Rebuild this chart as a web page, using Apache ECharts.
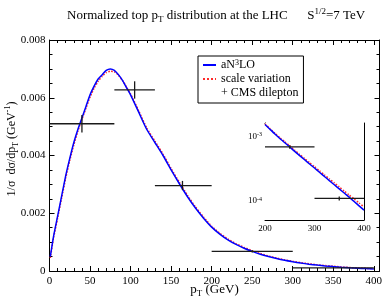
<!DOCTYPE html>
<html><head><meta charset="utf-8">
<script src="https://cdn.jsdelivr.net/npm/echarts@6/dist/echarts.min.js"></script>
<style>html,body{margin:0;padding:0;background:#fff}#c{width:382px;height:302px}</style>
</head><body><div id="c"></div>
<script>
// ---- data ----
const pT = [1,5,10,15,20,25,30,35,40,45,50,55,60,65,70,75,80,85,90,95,100,110,120,130,140,150,160,170,180,190,200,210,220,230,240,250,260,270,280,290,300,310,320,330,340,350,360,370,380,390,400];
const aN3LO = [0.0005,0.0012,0.0019,0.0026,0.0033,0.0039,0.00445,0.0049,0.0053,0.0057,0.0061,0.0064,0.00665,0.0068,0.00695,0.0070,0.00695,0.0068,0.0066,0.00635,0.0061,0.0055,0.0049,0.00445,0.0040,0.0035,0.00303,0.00258,0.00218,0.00183,0.00152,0.00128,0.00108,0.00092,0.00079,0.00068,0.00058,0.00050,0.00043,0.00037,0.00032,0.000275,0.000237,0.000204,0.000176,0.000152,0.000131,0.000113,0.000097,0.000083,0.000071];
const scaleVariation = [0.00045,0.00115,0.00183,0.00253,0.00322,0.00383,0.00437,0.00484,0.00525,0.00564,0.00602,0.00633,0.00657,0.00674,0.00687,0.00692,0.00690,0.00678,0.0066,0.00637,0.00613,0.00555,0.00495,0.0045,0.00405,0.00355,0.00308,0.00263,0.00222,0.00187,0.00155,0.00131,0.00111,0.00095,0.00082,0.000705,0.000605,0.00052,0.000449,0.000388,0.000336,0.00029,0.000251,0.000217,0.000188,0.000163,0.000141,0.000122,0.000106,0.000092,0.000080];
const cmsCenter = [40,105,164,250,350];
const cmsLow = [0,80,130,200,300];
const cmsHigh = [80,130,200,300,400];
const cmsValue = [0.0051,0.00627,0.00296,0.00068,0.000108];
const cmsError = [0.0003,0.0003,0.00016,0.00004,0.000008];
const insetMinorTicks = [6e-5,7e-5,8e-5,9e-5,2e-4,3e-4,4e-4,5e-4,6e-4,7e-4,8e-4,9e-4];

// ---- build ----
const SERIF = '"Liberation Serif", "Times New Roman", serif';
const blueData = pT.map((x,i)=>[x,aN3LO[i]]);
const redData = pT.map((x,i)=>[x,scaleVariation[i]]);
const cmsData = cmsCenter.map((c,i)=>[c,cmsLow[i],cmsHigh[i],cmsValue[i],cmsError[i]]);
const subsup = {
  sub:{fontSize:8,fontFamily:SERIF,verticalAlign:'bottom',lineHeight:8,color:'#000'},
  sup:{fontSize:8,fontFamily:SERIF,verticalAlign:'top',lineHeight:8,color:'#000'}
};
const subsupT = {
  sub:{fontSize:9,fontFamily:SERIF,verticalAlign:'bottom',lineHeight:9,color:'#000'},
  sup:{fontSize:9,fontFamily:SERIF,verticalAlign:'top',lineHeight:9,color:'#000'}
};
function errRender(params, api){
  const c = api.value(0), lo = api.value(1), hi = api.value(2), v = api.value(3), e = api.value(4);
  const a = api.coord([lo, v]), b = api.coord([hi, v]);
  const t = api.coord([c, v + e]), d = api.coord([c, v - e]);
  const st = {stroke:'#1a1a1a', lineWidth:1.3};
  return {type:'group', children:[
    {type:'line', shape:{x1:a[0],y1:a[1],x2:b[0],y2:b[1]}, style:st},
    {type:'line', shape:{x1:t[0],y1:t[1],x2:d[0],y2:d[1]}, style:st}
  ]};
}
const axLine = {show:true, onZero:false, lineStyle:{color:'#000', width:1}};
const tickIn = (len)=>({show:true, inside:true, length:len, lineStyle:{color:'#000', width:1}});
const minorIn = (n,len)=>({show:true, splitNumber:n, length:len, lineStyle:{color:'#000', width:1}});
const lblStyle = (sz)=>({fontFamily:SERIF, fontSize:sz, color:'#000'});

const option = {
  animation:false,
  backgroundColor:'#fff',
  title:{
    text:'Normalized top p{sub|T} distribution at the LHC      S{sup|1/2}=7 TeV',
    left:62, top:2,
    textStyle:{fontFamily:SERIF, fontSize:13, fontWeight:'normal', color:'#000', lineHeight:17, rich:subsupT}
  },
  graphic:[{
    type:'text', x:12, y:149, rotation:Math.PI/2,
    style:{text:'1/σ  dσ/dp{sub|T} (GeV{sup|-1})', font:'12px '+SERIF, fill:'#000', align:'center', verticalAlign:'middle', lineHeight:16, rich:subsup}
  }],
  legend:{
    orient:'vertical', left:198, top:56,
    padding:[3,5,4,4], itemGap:2, itemWidth:13, itemHeight:12,
    borderColor:'#000', borderWidth:1, backgroundColor:'#fff',
    textStyle:{fontFamily:SERIF, fontSize:12, color:'#000', rich:subsup},
    formatter:(n)=> n==='aN3LO' ? 'aN{sup|3}LO' : n,
    data:[
      {name:'aN3LO', itemStyle:{opacity:0, borderWidth:0}},
      {name:'scale variation', itemStyle:{opacity:0, borderWidth:0}},
      {name:'+ CMS dilepton', icon:'rect', itemStyle:{opacity:0}}
    ]
  },
  grid:[
    {left:49.5, top:40, width:330, height:231, show:true, borderWidth:0, backgroundColor:'#fff', outerBoundsMode:'none', containLabel:false},
    {left:265, top:123, width:99, height:97, show:true, borderWidth:0, backgroundColor:'#fff', z:5, outerBoundsMode:'none', containLabel:false}
  ],
  xAxis:[
    {gridIndex:0, type:'value', min:0, max:407, interval:50, position:'bottom',
     axisLine:axLine, axisTick:tickIn(5), minorTick:minorIn(5,3), splitLine:{show:false},
     axisLabel:Object.assign({margin:5, showMaxLabel:false}, lblStyle(11)),
     name:'p{sub|T} (GeV)', nameLocation:'middle', nameGap:11, nameMoveOverlap:false,
     nameTextStyle:{fontFamily:SERIF, fontSize:13, color:'#000', lineHeight:16, verticalAlign:'top', rich:subsupT}},
    {gridIndex:0, type:'value', min:0, max:407, interval:50, position:'top',
     axisLine:axLine, axisTick:tickIn(5), minorTick:minorIn(5,3), splitLine:{show:false}, axisLabel:{show:false}},
    {gridIndex:1, type:'value', min:200, max:400, interval:100, position:'bottom',
     axisLine:axLine, axisTick:tickIn(4), minorTick:minorIn(5,2.5), splitLine:{show:false},
     axisLabel:Object.assign({margin:4}, lblStyle(9))},
    {gridIndex:1, type:'value', min:200, max:400, interval:100, position:'top',
     axisLine:axLine, axisTick:tickIn(4), minorTick:minorIn(5,2.5), splitLine:{show:false}, axisLabel:{show:false}}
  ],
  yAxis:[
    {gridIndex:0, type:'value', min:0, max:0.008, interval:0.002, position:'left',
     axisLine:axLine, axisTick:tickIn(5), minorTick:minorIn(4,3), splitLine:{show:false},
     axisLabel:Object.assign({margin:4}, lblStyle(11))},
    {gridIndex:0, type:'value', min:0, max:0.008, interval:0.002, position:'right',
     axisLine:axLine, axisTick:tickIn(5), minorTick:minorIn(4,3), splitLine:{show:false}, axisLabel:{show:false}},
    {gridIndex:1, type:'log', logBase:10, min:5e-5, max:1.6e-3, position:'left',
     axisLine:axLine, axisTick:tickIn(4), splitLine:{show:false},
     axisLabel:Object.assign({margin:3, showMinLabel:false, showMaxLabel:false,
       formatter:(v)=>'10{sup|'+Math.round(Math.log10(v))+'}',
       rich:{sup:{fontSize:6,fontFamily:SERIF,verticalAlign:'top',lineHeight:6,color:'#000'}}}, lblStyle(9))},
    {gridIndex:1, type:'log', logBase:10, min:5e-5, max:1.6e-3, position:'right',
     axisLine:axLine, axisTick:tickIn(4), splitLine:{show:false}, axisLabel:{show:false}},
    {gridIndex:1, type:'log', logBase:10, min:5e-5, max:1.6e-3, position:'left',
     axisLine:{show:false}, axisTick:{show:true, inside:true, length:2.5, customValues:insetMinorTicks, lineStyle:{color:'#000'}},
     splitLine:{show:false}, axisLabel:{show:false}},
    {gridIndex:1, type:'log', logBase:10, min:5e-5, max:1.6e-3, position:'right',
     axisLine:{show:false}, axisTick:{show:true, inside:true, length:2.5, customValues:insetMinorTicks, lineStyle:{color:'#000'}},
     splitLine:{show:false}, axisLabel:{show:false}}
  ],
  series:[
    {name:'aN3LO', type:'line', xAxisIndex:0, yAxisIndex:0, data:blueData, symbol:'none', smooth:0.2,
     lineStyle:{color:'#0000ff', width:1.5}, itemStyle:{color:'#0000ff'}, z:3},
    {name:'scale variation', type:'line', xAxisIndex:0, yAxisIndex:0, data:redData, symbol:'none', smooth:0.2,
     lineStyle:{color:'#ff2a2a', width:1.5, type:'dotted'}, itemStyle:{color:'#ff2a2a'}, z:2},
    {name:'+ CMS dilepton', type:'custom', xAxisIndex:0, yAxisIndex:0, data:cmsData, renderItem:errRender,
     encode:{x:[0,1,2], y:3}, itemStyle:{color:'#1a1a1a'}, z:4},
    {name:'aN3LO', type:'line', xAxisIndex:2, yAxisIndex:2, data:blueData.filter(d=>d[0]>=200), symbol:'none', smooth:0.2,
     lineStyle:{color:'#0000ff', width:1.5}, itemStyle:{color:'#0000ff'}, z:7},
    {name:'scale variation', type:'line', xAxisIndex:2, yAxisIndex:2, data:redData.filter(d=>d[0]>=200), symbol:'none', smooth:0.2,
     lineStyle:{color:'#ff2a2a', width:1.5, type:'dotted'}, itemStyle:{color:'#ff2a2a'}, z:6},
    {name:'+ CMS dilepton', type:'custom', xAxisIndex:2, yAxisIndex:2, data:cmsData.filter(d=>d[0]>=200), renderItem:errRender,
     encode:{x:[0,1,2], y:3}, itemStyle:{color:'#1a1a1a'}, z:8}
  ]
};
const chart = echarts.init(document.getElementById('c'), null, {renderer:'canvas'});
chart.setOption(option);
</script>
</body></html>
